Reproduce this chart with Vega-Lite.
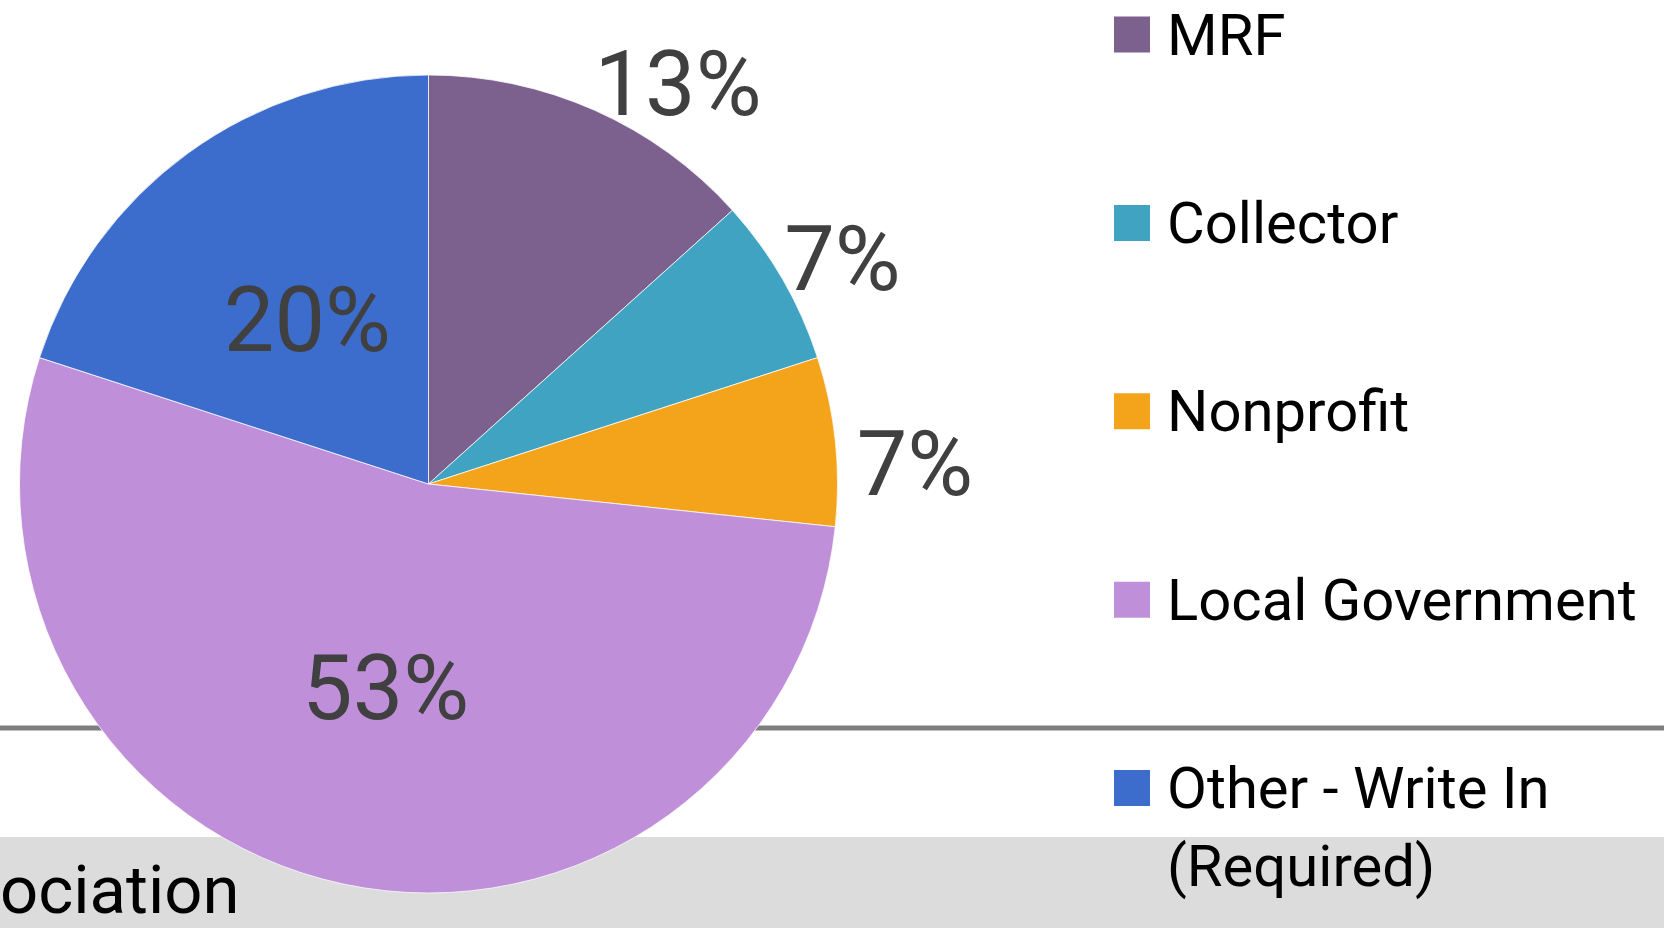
{
  "$schema": "https://vega.github.io/schema/vega-lite/v6.json",
  "width": 1664,
  "height": 928,
  "autosize": {"type": "none"},
  "padding": 0,
  "background": "#ffffff",
  "config": {"view": {"stroke": null}},
  "data": {
    "values": [
      {"cat": "MRF", "n": 2, "pct": "13%", "k": 1},
      {"cat": "Collector", "n": 1, "pct": "7%", "k": 2},
      {"cat": "Nonprofit", "n": 1, "pct": "7%", "k": 3},
      {"cat": "Local Government", "n": 8, "pct": "53%", "k": 4},
      {"cat": "Other - Write In\n(Required)", "n": 3, "pct": "20%", "k": 5}
    ]
  },
  "layer": [
    {
      "data": {"values": [{}]},
      "mark": {"type": "rect", "color": "#dcdcdc"},
      "encoding": {
        "x": {"datum": 0, "type": "quantitative", "scale": {"domain": [0, 1664], "nice": false, "zero": false}, "axis": null},
        "x2": {"datum": 1664},
        "y": {"datum": 837, "type": "quantitative", "scale": {"domain": [0, 928], "nice": false, "zero": false, "reverse": true}, "axis": null},
        "y2": {"datum": 928}
      }
    },
    {
      "data": {"values": [{}]},
      "mark": {"type": "rule", "color": "#7f7f7f", "strokeWidth": 5},
      "encoding": {
        "x": {"datum": 0, "type": "quantitative", "scale": {"domain": [0, 1664], "nice": false, "zero": false}, "axis": null},
        "x2": {"datum": 1664},
        "y": {"datum": 728, "type": "quantitative", "scale": {"domain": [0, 928], "nice": false, "zero": false, "reverse": true}, "axis": null}
      }
    },
    {
      "data": {"values": [{}]},
      "mark": {"type": "text", "text": "ociation", "align": "left", "baseline": "alphabetic", "fontSize": 67, "font": "Roboto", "color": "#000000"},
      "encoding": {
        "x": {"datum": 0, "type": "quantitative", "scale": {"domain": [0, 1664], "nice": false, "zero": false}, "axis": null},
        "y": {"datum": 913, "type": "quantitative", "scale": {"domain": [0, 928], "nice": false, "zero": false, "reverse": true}, "axis": null}
      }
    },
    {
      "mark": {"type": "arc", "outerRadius": 409, "stroke": "#ffffff", "strokeWidth": 0.75},
      "encoding": {
        "x": {"datum": 428.5, "type": "quantitative", "scale": {"domain": [0, 1664], "nice": false, "zero": false}, "axis": null},
        "y": {"datum": 484, "type": "quantitative", "scale": {"domain": [0, 928], "nice": false, "zero": false, "reverse": true}, "axis": null},
        "theta": {"field": "n", "type": "quantitative", "stack": true},
        "order": {"field": "k", "type": "quantitative"},
        "color": {
          "field": "cat",
          "type": "nominal",
          "scale": {
            "domain": ["MRF", "Collector", "Nonprofit", "Local Government", "Other - Write In\n(Required)"],
            "range": ["#7c618f", "#40a3c1", "#f4a41b", "#bf8fda", "#3d6dcc"]
          },
          "legend": null
        }
      }
    },
    {
      "mark": {"type": "text", "radius": 206, "dy": 7, "fontSize": 90, "font": "Roboto", "color": "#404040", "align": "center", "baseline": "middle"},
      "encoding": {
        "x": {"datum": 428.5, "type": "quantitative", "scale": {"domain": [0, 1664], "nice": false, "zero": false}, "axis": null},
        "y": {"datum": 484, "type": "quantitative", "scale": {"domain": [0, 928], "nice": false, "zero": false, "reverse": true}, "axis": null},
        "theta": {"field": "n", "type": "quantitative", "stack": true},
        "order": {"field": "k", "type": "quantitative"},
        "text": {"field": "pct"},
        "opacity": {"condition": {"test": "datum.k >= 4", "value": 1}, "value": 0}
      }
    },
    {
      "mark": {"type": "text", "radius": 471, "dx": 58, "dy": 34, "fontSize": 90, "font": "Roboto", "color": "#404040", "align": "center", "baseline": "middle"},
      "encoding": {
        "x": {"datum": 428.5, "type": "quantitative", "scale": {"domain": [0, 1664], "nice": false, "zero": false}, "axis": null},
        "y": {"datum": 484, "type": "quantitative", "scale": {"domain": [0, 928], "nice": false, "zero": false, "reverse": true}, "axis": null},
        "theta": {"field": "n", "type": "quantitative", "stack": true},
        "order": {"field": "k", "type": "quantitative"},
        "text": {"field": "pct"},
        "opacity": {"condition": {"test": "datum.k == 1", "value": 1}, "value": 0}
      }
    },
    {
      "mark": {"type": "text", "radius": 471, "dx": 6, "dy": 14, "fontSize": 90, "font": "Roboto", "color": "#404040", "align": "center", "baseline": "middle"},
      "encoding": {
        "x": {"datum": 428.5, "type": "quantitative", "scale": {"domain": [0, 1664], "nice": false, "zero": false}, "axis": null},
        "y": {"datum": 484, "type": "quantitative", "scale": {"domain": [0, 928], "nice": false, "zero": false, "reverse": true}, "axis": null},
        "theta": {"field": "n", "type": "quantitative", "stack": true},
        "order": {"field": "k", "type": "quantitative"},
        "text": {"field": "pct"},
        "opacity": {"condition": {"test": "datum.k == 2", "value": 1}, "value": 0}
      }
    },
    {
      "mark": {"type": "text", "radius": 471, "dx": 18, "dy": 33, "fontSize": 90, "font": "Roboto", "color": "#404040", "align": "center", "baseline": "middle"},
      "encoding": {
        "x": {"datum": 428.5, "type": "quantitative", "scale": {"domain": [0, 1664], "nice": false, "zero": false}, "axis": null},
        "y": {"datum": 484, "type": "quantitative", "scale": {"domain": [0, 928], "nice": false, "zero": false, "reverse": true}, "axis": null},
        "theta": {"field": "n", "type": "quantitative", "stack": true},
        "order": {"field": "k", "type": "quantitative"},
        "text": {"field": "pct"},
        "opacity": {"condition": {"test": "datum.k == 3", "value": 1}, "value": 0}
      }
    },
    {
      "mark": {"type": "square", "size": 1296, "opacity": 1, "filled": true},
      "encoding": {
        "x": {"datum": 1132, "type": "quantitative", "scale": {"domain": [0, 1664], "nice": false, "zero": false}, "axis": null},
        "y": {"field": "cat", "type": "nominal", "scale": {"type": "point", "padding": 0, "domain": ["MRF", "Collector", "Nonprofit", "Local Government", "Other - Write In\n(Required)"], "range": [34.5, 788]}, "axis": null},
        "color": {"field": "cat", "type": "nominal", "legend": null}
      }
    },
    {
      "mark": {"type": "text", "align": "left", "baseline": "alphabetic", "dy": 20, "fontSize": 58, "font": "Roboto", "lineBreak": "\n", "lineHeight": 78, "color": "#000000"},
      "encoding": {
        "x": {"datum": 1167, "type": "quantitative", "scale": {"domain": [0, 1664], "nice": false, "zero": false}, "axis": null},
        "y": {"field": "cat", "type": "nominal", "scale": {"type": "point", "padding": 0, "domain": ["MRF", "Collector", "Nonprofit", "Local Government", "Other - Write In\n(Required)"], "range": [34.5, 788]}, "axis": null},
        "text": {"field": "cat"}
      }
    }
  ],
  "resolve": {"scale": {"y": "independent"}}
}
